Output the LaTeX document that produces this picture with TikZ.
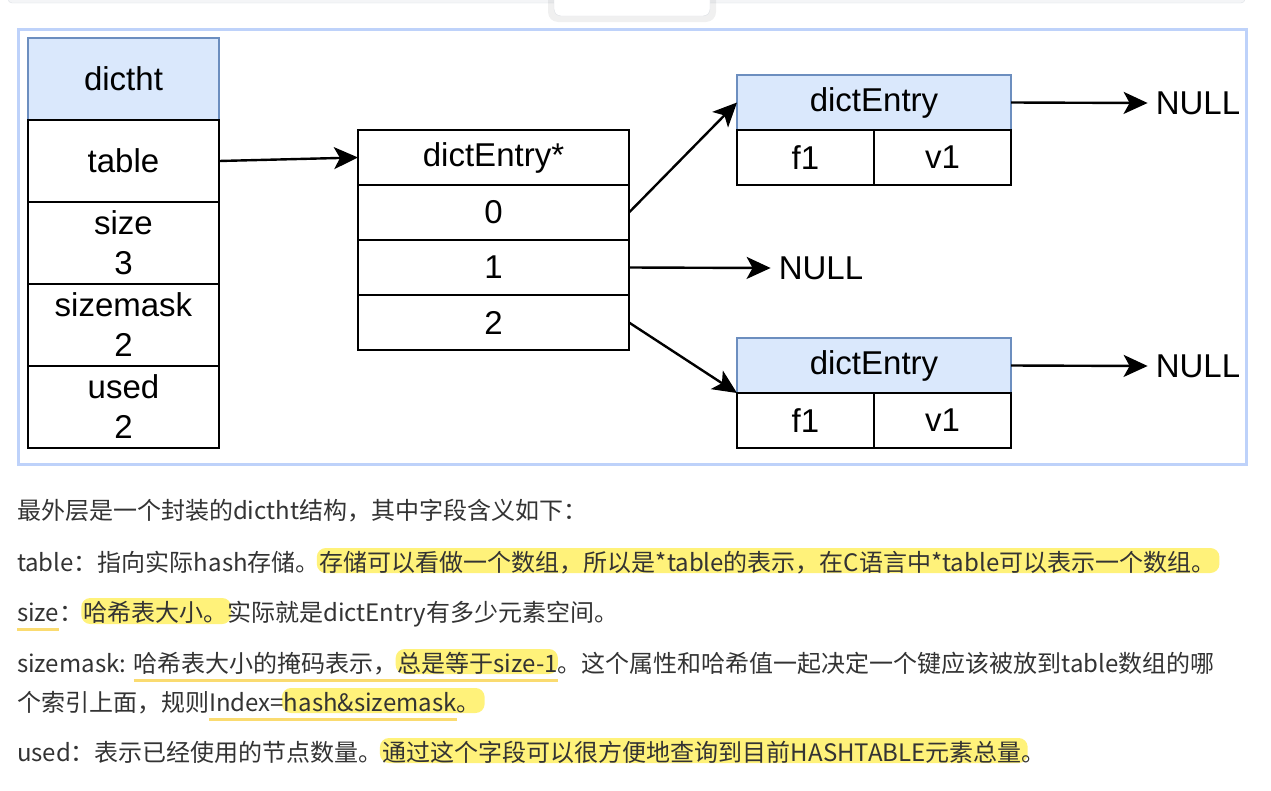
\documentclass[tikz,border=0pt]{standalone}
\usepackage{fontspec}
\setmainfont{Liberation Sans}
\newfontfamily\cjk{Noto Sans CJK SC}
\usetikzlibrary{arrows.meta, shadows, positioning, calc, backgrounds}
\definecolor{hdrfill}{HTML}{DAE8FC}
\definecolor{hdrline}{HTML}{6C8EBF}
\definecolor{framebl}{HTML}{BED2FA}
\definecolor{textgray}{HTML}{333333}
\definecolor{hlyellow}{HTML}{FFF27A}
\definecolor{ulyellow}{HTML}{FADB70}
\definecolor{barfill}{HTML}{F4F5F7}
\definecolor{barline}{HTML}{DCDFE4}

\begin{document}
\begin{tikzpicture}[x=1pt, y=-1pt,
    cell/.style={draw=black, fill=white, line width=2.6pt, inner sep=0pt, outer sep=0pt,
      align=center, font=\fontsize{33}{40}\selectfont},
    hdr/.style={cell, fill=hdrfill, draw=hdrline},
    nulltxt/.style={inner sep=8pt, font=\fontsize{33}{40}\selectfont},
    arr/.style={-{Stealth[length=24pt, width=22pt, inset=6pt]}, line width=2.4pt},
    txt/.style={font=\cjk\fontsize{24}{28}\selectfont, text=textgray, inner sep=0pt,
      outer sep=0pt, anchor=base west},
    hl/.style={fill=hlyellow, rounded corners=9pt},
    ul/.style={draw=ulyellow, line width=3pt}]
  \useasboundingbox (0,0) rectangle (1271,790);
  % Leiste oben und Reiter
  \draw[fill=barfill, draw=barline, rounded corners=4pt] (8,-10) rectangle (1245,3);
  \fill[black, opacity=0.06, rounded corners=10pt] (548,-10) rectangle (716,22);
  \draw[fill=white, draw=barline, rounded corners=7pt] (554,-12) rectangle (710,16);
  % Rahmen um das Diagramm
  \draw[framebl, line width=3pt] (18,29) rectangle (1246,464);

  % dictht
  \node[hdr, minimum width=191pt, minimum height=82pt] (ht) at (123.5,79) {dictht};
  \node[cell, minimum width=191pt, minimum height=82pt, below=0pt of ht] (tb) {table};
  \node[cell, minimum width=191pt, minimum height=82pt, below=0pt of tb] (sz) {size\\3};
  \node[cell, minimum width=191pt, minimum height=82pt, below=0pt of sz] (sm) {sizemask\\2};
  \node[cell, minimum width=191pt, minimum height=82pt, below=0pt of sm] (us) {used\\2};

  % dictEntry* Array
  \node[cell, minimum width=271pt, minimum height=55pt] (ah) at (493.5,157.5) {dictEntry*};
  \node[cell, minimum width=271pt, minimum height=55pt, below=0pt of ah] (a0) {0};
  \node[cell, minimum width=271pt, minimum height=55pt, below=0pt of a0] (a1) {1};
  \node[cell, minimum width=271pt, minimum height=55pt, below=0pt of a1] (a2) {2};

  % dictEntry oben
  \node[hdr, minimum width=274pt, minimum height=55pt] (eh1) at (874,102.5) {dictEntry};
  \node[cell, minimum width=137pt, minimum height=55pt, anchor=north west] (ek1) at (eh1.south west) {f1};
  \node[cell, minimum width=137pt, minimum height=55pt, right=0pt of ek1] (ev1) {v1};
  % dictEntry unten
  \node[hdr, minimum width=274pt, minimum height=55pt] (eh2) at (874,365.5) {dictEntry};
  \node[cell, minimum width=137pt, minimum height=55pt, anchor=north west] (ek2) at (eh2.south west) {f1};
  \node[cell, minimum width=137pt, minimum height=55pt, right=0pt of ek2] (ev2) {v1};

  \node[nulltxt] (n1) at (1198,103) {NULL};
  \node[nulltxt] (n2) at (821,268) {NULL};
  \node[nulltxt] (n3) at (1198,366) {NULL};

  % Pfeile
  \draw[arr] (tb.east) -- (ah.west);
  \draw[arr] (a0.east) -- (eh1.west);
  \draw[arr] (a1.east) -- (n2.west);
  \draw[arr] (a2.east) -- (eh2.south west);
  \draw[arr] (eh1.east) -- (n1.west);
  \draw[arr] (eh2.east) -- (n3.west);

  % Text unter dem Diagramm
  \node[txt] (l1) at (17,519) {最外层是一个封装的dictht结构，其中字段含义如下：};

  \node[txt] (l2a) at (17,571) {table：指向实际hash存储。};
  \node[txt] (l2b) at (l2a.base east) {存储可以看做一个数组，所以是*table的表示，在C语言中*table可以表示一个数组。};

  \node[txt] (l3a) at (17,621) {size};
  \node[txt] (l3b) at (l3a.base east) {：};
  \node[txt] (l3c) at (l3b.base east) {哈希表大小。};
  \node[txt] (l3d) at (l3c.base east) {实际就是dictEntry有多少元素空间。};

  \node[txt] (l4a) at (17,672) {sizemask:\kern0.3em};
  \node[txt] (l4b) at (l4a.base east) {哈希表大小的掩码表示，};
  \node[txt] (l4c) at (l4b.base east) {总是等于size-1};
  \node[txt] (l4d) at (l4c.base east) {。这个属性和哈希值一起决定一个键应该被放到table数组的哪};

  \node[txt] (l5a) at (17,711) {个索引上面，规则};
  \node[txt] (l5b) at (l5a.base east) {Index=};
  \node[txt] (l5c) at (l5b.base east) {hash\&sizemask};
  \node[txt] (l5d) at (l5c.base east) {。};

  \node[txt] (l6a) at (17,761) {used：表示已经使用的节点数量。};
  \node[txt] (l6b) at (l6a.base east) {通过这个字段可以很方便地查询到目前HASHTABLE元素总量};
  \node[txt] (l6c) at (l6b.base east) {。};

  % Markierungen
  \begin{scope}[on background layer]
    \fill[hl] ($(l2b.base west)+(-3,-23)$) rectangle ($(l2b.base east)+(4,2)$);
    \fill[hl] ($(l3c.base west)+(-2,-23)$) rectangle ($(l3c.base east)+(4,3)$);
    \fill[hl] ($(l4c.base west)+(-2,-23)$) rectangle ($(l4c.base east)+(0,2)$);
    \fill[hl] ($(l5c.base west)+(-2,-23)$) rectangle ($(l5d.base east)+(4,2)$);
    \fill[hl] ($(l6b.base west)+(-3,-23)$) rectangle ($(l6b.base east)+(6,2)$);
    \draw[ul] ($(l3a.base west)+(0,8)$) -- ($(l3a.base east)+(0,8)$);
    \draw[ul] ($(l4b.base west)+(0,8)$) -- ($(l4c.base east)+(0,8)$);
    \draw[ul] ($(l5b.base west)+(0,8)$) -- ($(l5c.base east)+(0,8)$);
  \end{scope}
\end{tikzpicture}
\end{document}
